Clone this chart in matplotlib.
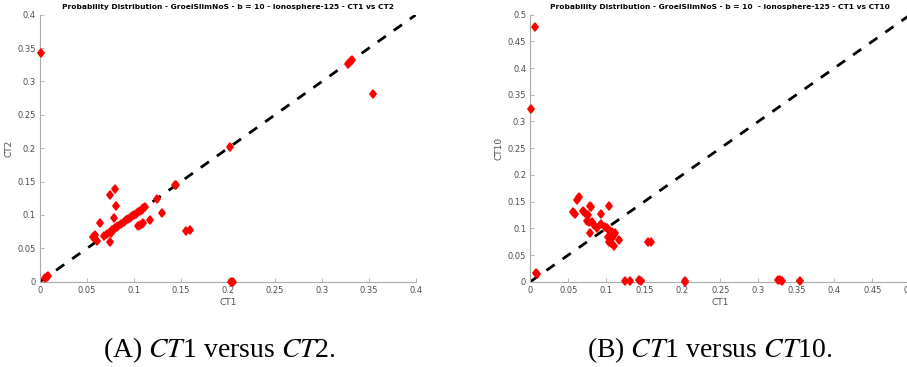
import matplotlib
matplotlib.use("Agg")
import matplotlib.pyplot as plt
import numpy as np

# CT1 vs CT2
ct1_a = [0.0007, 0.005, 0.007, 0.008, 0.3275, 0.329, 0.3305, 0.3315, 0.3546, 0.202, 0.203, 0.205,
         0.1435, 0.1448, 0.124, 0.130, 0.117, 0.155, 0.1596, 0.074, 0.0794, 0.0809, 0.079, 0.0638,
         0.056, 0.059, 0.061, 0.074,
         0.068, 0.071, 0.074, 0.077, 0.080, 0.083, 0.086, 0.089, 0.092, 0.094, 0.096, 0.098,
         0.100, 0.102, 0.104, 0.106, 0.108, 0.110, 0.112,
         0.075, 0.078, 0.080, 0.082, 0.106, 0.108, 0.110, 0.104]
ct2_a = [0.3425, 0.005, 0.0075, 0.0085, 0.3265, 0.328, 0.330, 0.3315, 0.281, 0.2025, 0.0, 0.0,
         0.1445, 0.145, 0.124, 0.1035, 0.093, 0.0755, 0.078, 0.1305, 0.1395, 0.113, 0.095, 0.0885,
         0.0665, 0.07, 0.0615, 0.059,
         0.068, 0.071, 0.074, 0.077, 0.080, 0.083, 0.086, 0.089, 0.092, 0.094, 0.096, 0.098,
         0.100, 0.102, 0.104, 0.106, 0.108, 0.110, 0.112,
         0.0725, 0.077, 0.080, 0.082, 0.085, 0.086, 0.088, 0.083]

# CT1 vs CT10
ct1_b = [0.0062, 0.001, 0.0075, 0.009,
         0.056, 0.059, 0.0615, 0.064, 0.0695, 0.072, 0.0757, 0.074, 0.079, 0.080, 0.0774, 0.081,
         0.0836, 0.079, 0.088, 0.0934, 0.0934, 0.104, 0.098, 0.101, 0.104, 0.102, 0.104, 0.108,
         0.110, 0.107, 0.110, 0.1066, 0.112, 0.117, 0.155, 0.159,
         0.124, 0.1305, 0.1435, 0.145, 0.203, 0.204, 0.3257, 0.328, 0.3305, 0.355]
ct10_b = [0.476, 0.324, 0.0156, 0.014,
          0.130, 0.126, 0.153, 0.158, 0.133, 0.128, 0.125, 0.114, 0.142, 0.140, 0.1125, 0.111,
          0.106, 0.092, 0.100, 0.108, 0.1275, 0.1425, 0.103, 0.101, 0.097, 0.084, 0.075, 0.094,
          0.0875, 0.081, 0.0675, 0.072, 0.092, 0.078, 0.0738, 0.0738,
          0.001, 0.001, 0.003, 0.002, 0.001, 0.0, 0.004, 0.003, 0.0005, 0.002]

titles = ["Probability Distribution - GroeiSlimNoS - b = 10 - ionosphere-125 - CT1 vs CT2",
          "Probability Distribution - GroeiSlimNoS - b = 10  - ionosphere-125 - CT1 vs CT10"]
ylabels = ["CT2", "CT10"]
captions = [r"(A) $\mathit{CT}$1 versus $\mathit{CT}$2.", r"(B) $\mathit{CT}$1 versus $\mathit{CT}$10."]

plt.rcParams['mathtext.fontset'] = 'stix'

fig = plt.figure(figsize=(9.07, 3.67), dpi=100)
ax1 = fig.add_axes([0.0441, 0.2324, 0.4146, 0.7276])
ax2 = fig.add_axes([0.5847, 0.2324, 0.4190, 0.7276])

gray = "#4d4d4d"
for ax, xs, ys, lim, step, t, yl in [(ax1, ct1_a, ct2_a, 0.4, 0.05, titles[0], ylabels[0]),
                                     (ax2, ct1_b, ct10_b, 0.5, 0.05, titles[1], ylabels[1])]:
    ax.plot([0, lim], [0, lim], color="black", linestyle=(0, (3.6, 3.5)), linewidth=2.0, zorder=2)
    ax.plot(xs, ys, linestyle="none", marker="d", markersize=4.5, markeredgewidth=1.2,
            color="red", markeredgecolor="red", zorder=3, clip_on=False)
    ax.set_xlim(0, lim)
    ax.set_ylim(0, lim)
    ticks = np.round(np.arange(0, lim + 1e-9, step), 2)
    ax.set_xticks(ticks)
    ax.set_yticks(ticks)
    ax.set_xticklabels(["%g" % v for v in ticks])
    ax.set_yticklabels(["%g" % v for v in ticks])
    for s in ["top", "right"]:
        ax.spines[s].set_visible(False)
    for s in ["left", "bottom"]:
        ax.spines[s].set_color("#aaaaaa")
        ax.spines[s].set_linewidth(0.8)
    ax.tick_params(direction="in", length=3, width=0.6, colors="#aaaaaa",
                   labelcolor=gray, labelsize=6, pad=3)
    ax.set_title(t, fontsize=5.4, fontweight="bold", pad=4)
    ax.set_xlabel("CT1", fontsize=6.5, color=gray, labelpad=2)
    ax.set_ylabel(yl, fontsize=6.5, color=gray, labelpad=3)

fig.text(0.2415, 0.046, captions[0], fontsize=20, family="Liberation Serif", ha="center", va="center")
fig.text(0.7828, 0.046, captions[1], fontsize=20, family="Liberation Serif", ha="center", va="center")

fig.savefig("out.png", dpi=100)
